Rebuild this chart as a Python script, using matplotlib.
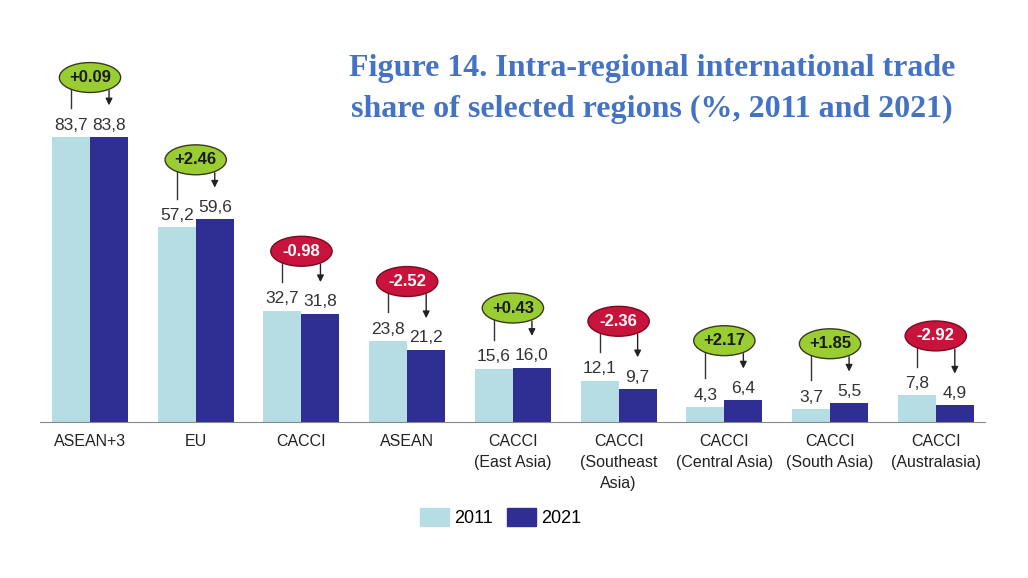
import matplotlib.pyplot as plt
from matplotlib.patches import Ellipse, Patch
import numpy as np

# datos
regiones = ['ASEAN+3', 'EU', 'CACCI', 'ASEAN', 'CACCI\n(East Asia)',
            'CACCI\n(Southeast\nAsia)', 'CACCI\n(Central Asia)',
            'CACCI\n(South Asia)', 'CACCI\n(Australasia)']
v2011 = [83.7, 57.2, 32.7, 23.8, 15.6, 12.1, 4.3, 3.7, 7.8]
v2021 = [83.8, 59.6, 31.8, 21.2, 16.0, 9.7, 6.4, 5.5, 4.9]
cambios = ['+0.09', '+2.46', '-0.98', '-2.52', '+0.43', '-2.36', '+2.17', '+1.85', '-2.92']

c_claro = '#b5dde3'
c_oscuro = '#2e2e93'
c_verde = '#9acd32'
c_rojo = '#c8143c'

fig = plt.figure(figsize=(10.28, 5.78), dpi=100)
ax = fig.add_axes([0.0389, 0.27, 0.919, 0.68])

x = np.arange(len(regiones))
w = 0.36
ax.bar(x - w/2, v2011, w, color=c_claro)
ax.bar(x + w/2, v2021, w, color=c_oscuro)

ax.set_xlim(-0.473, 8.463)
ax.set_ylim(0, 115.6)

# etiquetas de valores y óvalos con la diferencia
for i in range(len(regiones)):
    a, b = v2011[i], v2021[i]
    ax.text(x[i] - w/2, a + 1.3, f'{a:.1f}'.replace('.', ','), ha='center', va='bottom',
            fontsize=12.5, color='#333333', family='Liberation Sans')
    ax.text(x[i] + w/2, b + 1.3, f'{b:.1f}'.replace('.', ','), ha='center', va='bottom',
            fontsize=12.5, color='#333333', family='Liberation Sans')
    yc = max(a, b) + 17.5
    pos = cambios[i].startswith('+')
    ax.plot([x[i] - w/2, x[i] - w/2], [yc - 3, a + 8.5], color='#333333', lw=1)
    ax.annotate('', xy=(x[i] + w/2, b + 8.5), xytext=(x[i] + w/2, yc - 3),
                arrowprops=dict(arrowstyle='-|>', color='#222222', lw=1, mutation_scale=10))
    e = Ellipse((x[i], yc), 0.58, 8.8, facecolor=c_verde if pos else c_rojo,
                edgecolor='#3a3a1a' if pos else '#7a0a20', lw=1, zorder=3)
    ax.add_patch(e)
    ax.text(x[i], yc, cambios[i], ha='center', va='center', fontsize=12, fontweight='bold',
            color='#1a1a1a' if pos else 'white', family='Liberation Sans', zorder=4)

for s in ['top', 'right', 'left']:
    ax.spines[s].set_visible(False)
ax.spines['bottom'].set_color('#888888')
ax.set_yticks([])
ax.set_xticks(x)
ax.set_xticklabels(regiones, fontsize=11.5, color='#222222', family='Liberation Sans',
                   linespacing=1.5)
ax.tick_params(axis='x', length=0, pad=9)

fig.legend(handles=[Patch(color=c_claro, label='2011'), Patch(color=c_oscuro, label='2021')],
           loc='center', bbox_to_anchor=(0.487, 0.105), ncol=2, frameon=False,
           prop={'family': 'Liberation Sans', 'size': 13}, handlelength=1.6, handleheight=1.2,
           columnspacing=0.8, handletextpad=0.3)

fig.text(0.634, 0.846, 'Figure 14. Intra-regional international trade\nshare of selected regions (%, 2011 and 2021)',
         ha='center', va='center', fontsize=23, fontweight='bold', color='#4472c4',
         family='Liberation Serif', linespacing=1.5)

plt.savefig('out.png', dpi=100)
